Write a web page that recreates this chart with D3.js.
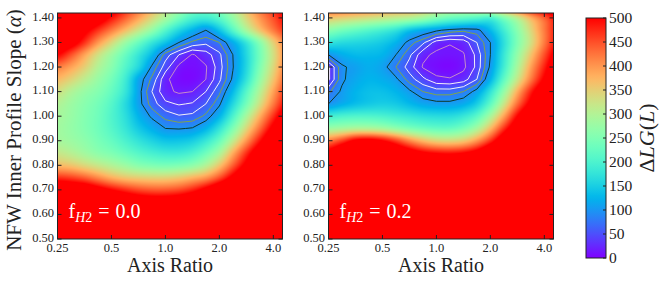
<!DOCTYPE html>
<html>
<head>
<meta charset="utf-8">
<script src="https://cdn.jsdelivr.net/npm/d3@7"></script>
<style>
  body { margin: 0; background: #fff; }
</style>
</head>
<body>
<svg id="chart" width="664" height="283" font-family="'Liberation Serif', 'DejaVu Serif', serif"></svg>
<script>
// grid nodes: axis ratio (log spaced, quarter steps in log2) and inner slope alpha
var ratioNodes = [0.250, 0.297, 0.354, 0.420, 0.500, 0.595, 0.707, 0.841, 1.000,
                  1.189, 1.414, 1.682, 2.000, 2.378, 2.828, 3.364, 4.000, 4.757];
var alphaNodes = [0.50, 0.55, 0.60, 0.65, 0.70, 0.75, 0.80, 0.85, 0.90, 0.95,
                  1.00, 1.05, 1.10, 1.15, 1.20, 1.25, 1.30, 1.35, 1.40, 1.45];

var xTicks = [0.25, 0.5, 1, 2, 4];
var xTickLabels = ["0.25", "0.5", "1.0", "2.0", "4.0"];
var yTicks = [0.5, 0.6, 0.7, 0.8, 0.9, 1.0, 1.1, 1.2, 1.3, 1.4];
var cbarTicks = [0, 50, 100, 150, 200, 250, 300, 350, 400, 450, 500];
var contourLevels = [20, 40, 60, 80, 100];
var contourColors = ["#c48cc8", "#f4f0f8", "#f4f0f8", "#7fa64a", "#0e3a2a"];
var panelLabels = ["0.0", "0.2"];

// ΔLG(L), rows follow alphaNodes (bottom to top), columns follow ratioNodes
var gridF00 = [
  [700,700,700,700,700,700,700,700,700,700,700,700,700,700,700,700,700,700],
  [700,700,700,700,700,700,700,700,700,700,700,700,700,700,700,700,700,700],
  [700,700,700,690,680,660,650,640,640,650,660,680,700,700,700,700,700,700],
  [650,650,640,630,610,580,560,550,550,560,580,610,640,660,680,690,700,700],
  [580,570,560,530,500,475,455,445,445,455,480,520,570,620,650,670,680,690],
  [470,460,440,410,380,360,350,345,345,355,375,400,450,520,590,630,650,670],
  [370,360,340,320,300,280,260,250,245,250,265,300,360,440,520,590,630,660],
  [320,305,285,265,250,230,210,195,185,185,200,235,290,380,470,550,600,640],
  [290,280,265,245,225,200,175,155,140,140,150,180,230,310,400,490,570,620],
  [285,272,255,235,210,180,145,120,100, 98,102,125,175,250,340,430,520,590],
  [290,275,255,235,205,170,125, 95, 72, 62, 65, 85,125,200,290,380,470,550],
  [300,280,260,240,210,165,110, 70, 45, 38, 42, 60, 95,160,240,330,420,500],
  [330,300,275,255,225,180,110, 60, 25, 17, 20, 40, 75,130,210,300,390,470],
  [370,345,310,275,240,190,115, 75, 25,  8,  6, 20, 55,105,175,270,360,440],
  [420,390,350,300,260,210,160, 95, 50, 15,  8, 18, 50, 98,160,250,340,420],
  [500,450,390,330,280,230,180,130, 70, 40, 18, 30, 55,100,160,240,330,410],
  [560,530,470,400,340,280,230,180,140,100, 75, 65, 80,120,180,260,350,420],
  [600,570,520,470,420,370,320,270,210,160,125,100,140,210,290,360,420,470],
  [650,620,580,540,490,440,390,340,290,240,200,190,215,270,340,400,450,500],
  [700,680,640,600,550,490,440,390,330,290,250,240,260,310,370,430,480,530]
];

var gridF02 = [
  [700,700,700,700,700,700,700,700,700,700,700,700,700,700,700,700,700,700],
  [700,700,700,700,700,700,700,700,700,700,700,700,700,700,700,700,700,700],
  [700,700,700,700,700,700,700,700,700,700,700,700,700,700,700,700,700,700],
  [700,700,700,700,700,700,700,700,700,700,700,700,700,700,700,700,700,700],
  [700,700,700,700,700,700,700,700,700,700,700,700,700,700,700,700,700,700],
  [680,700,700,700,700,700,700,700,700,700,700,700,700,700,700,700,700,700],
  [620,660,680,680,670,650,630,610,600,600,610,640,680,700,700,700,700,700],
  [530,580,620,620,600,570,540,510,495,490,500,530,590,650,690,700,700,700],
  [420,460,510,520,500,460,410,370,345,340,355,400,470,560,630,670,690,700],
  [280,290,300,300,290,270,250,235,225,225,245,290,370,470,560,620,660,690],
  [190,200,205,205,200,190,180,170,165,165,180,215,290,390,500,580,630,670],
  [100,120,135,145,150,145,130,115,108,108,118,150,220,320,430,520,590,640],
  [ 75,105,125,135,135,125,105, 80, 70, 70, 80,110,175,270,380,480,560,620],
  [ 35, 95,115,125,120,105, 70, 45, 25, 22, 30, 60,125,220,320,420,510,580],
  [ 35, 95,110,120,110, 80, 50, 18,  8,  5, 15, 45,105,190,290,390,480,560],
  [100,120,130,130,125,100, 65, 25, 15, 12, 18, 45,100,180,270,360,450,530],
  [175,165,160,155,145,125, 90, 65, 30, 22, 28, 60,100,170,250,330,420,500],
  [260,240,225,210,195,175,140,120,105, 92, 85, 90,130,190,260,340,420,490],
  [360,350,340,330,320,310,300,280,250,230,220,210,200,250,310,380,440,500],
  [470,460,450,440,430,420,410,390,360,340,340,360,400,450,500,540,570,600]
];

const svg = d3.select("#chart");
const fontFam = "'Liberation Serif', 'DejaVu Serif', serif";
const plotTop = 13, plotBottom = 239;

const y = d3.scaleLinear().domain([0.5, 1.42]).range([plotBottom, plotTop]);
const colIndex = d3.scaleLog().domain([ratioNodes[0], ratioNodes[ratioNodes.length - 1]]).range([0, ratioNodes.length - 1]);
const rowIndex = d3.scaleLinear().domain([alphaNodes[0], alphaNodes[alphaNodes.length - 1]]).range([0, alphaNodes.length - 1]);
const colorT = d3.scaleLinear().domain([0, 500]).range([0, 1]).clamp(true);
const levelColor = d3.scaleOrdinal().domain(contourLevels).range(contourColors);

// matplotlib "rainbow" colormap
function rainbow(t) {
  var c = [Math.abs(2 * t - 0.5), Math.sin(Math.PI * t), Math.cos(Math.PI * t / 2)];
  return c.map(v => Math.round(255 * Math.max(0, Math.min(1, v))));
}

function cubic(p0, p1, p2, p3, t) {
  return p1 + 0.5 * t * (p2 - p0 + t * (2 * p0 - 5 * p1 + 4 * p2 - p3 + t * (3 * (p1 - p2) + p3 - p0)));
}

// smooth image sampling of the grid (like imshow bicubic)
function sample(grid, fi, fj) {
  var nr = grid.length, nc = grid[0].length;
  var i = Math.floor(fi), j = Math.floor(fj), ti = fi - i, tj = fj - j;
  var g = (r, c) => grid[Math.max(0, Math.min(nr - 1, r))][Math.max(0, Math.min(nc - 1, c))];
  var rows = [];
  for (var k = -1; k <= 2; k++) rows.push(cubic(g(j + k, i - 1), g(j + k, i), g(j + k, i + 1), g(j + k, i + 2), ti));
  return cubic(rows[0], rows[1], rows[2], rows[3], tj);
}

function txt(sel) {
  return sel.attr("font-family", fontFam).style("font-family", fontFam);
}

function drawPanel(left, right, grid, label, idx) {
  const x = d3.scaleLog().domain([0.25, 4.5]).range([left, right]);
  const W = Math.round(right - left), H = Math.round(plotBottom - plotTop);

  // heatmap
  const canvas = document.createElement("canvas");
  canvas.width = W; canvas.height = H;
  const ctx = canvas.getContext("2d");
  const img = ctx.createImageData(W, H);
  for (let py = 0; py < H; py++) {
    const fj = rowIndex(y.invert(plotTop + (py + 0.5) * (plotBottom - plotTop) / H));
    for (let px = 0; px < W; px++) {
      const fi = colIndex(x.invert(left + (px + 0.5) * (right - left) / W));
      const c = rainbow(colorT(sample(grid, fi, fj)));
      const o = (py * W + px) * 4;
      img.data[o] = c[0]; img.data[o + 1] = c[1]; img.data[o + 2] = c[2]; img.data[o + 3] = 255;
    }
  }
  ctx.putImageData(img, 0, 0);

  svg.append("clipPath").attr("id", "clip" + idx)
    .append("rect").attr("x", left).attr("y", plotTop)
    .attr("width", right - left).attr("height", plotBottom - plotTop);

  const g = svg.append("g");
  g.append("image")
    .attr("href", canvas.toDataURL())
    .attr("x", left).attr("y", plotTop)
    .attr("width", right - left).attr("height", plotBottom - plotTop)
    .attr("preserveAspectRatio", "none");

  // contours (negated so each ring encloses the minimum)
  const flat = [];
  grid.forEach(row => row.forEach(v => flat.push(-v)));
  const contours = d3.contours()
    .size([ratioNodes.length, alphaNodes.length])
    .thresholds(contourLevels.map(v => -v))(flat);
  const proj = d3.geoTransform({
    point: function(cx, cy) {
      this.stream.point(x(colIndex.invert(cx - 0.5)), y(rowIndex.invert(cy - 0.5)));
    }
  });
  g.append("g").attr("clip-path", "url(#clip" + idx + ")")
    .selectAll("path")
    .data(contours)
    .enter().append("path")
    .attr("d", d3.geoPath(proj))
    .attr("fill", "none")
    .attr("stroke", d => levelColor(-d.value))
    .attr("stroke-width", 1);

  // label
  const t = txt(g.append("text"))
    .attr("x", left + 11).attr("y", 218)
    .style("font-size", "20px").style("fill", "#fff");
  t.append("tspan").text("f");
  t.append("tspan").attr("dy", 4).style("font-size", "14px").style("font-style", "italic").text("H");
  t.append("tspan").style("font-size", "14px").text("2");
  t.append("tspan").attr("dy", -4).attr("dx", 6).text("=");
  t.append("tspan").attr("dx", 6).text(label);

  // frame
  g.append("rect")
    .attr("x", left).attr("y", plotTop)
    .attr("width", right - left).attr("height", plotBottom - plotTop)
    .attr("fill", "none").attr("stroke", "#222").attr("stroke-width", 1);

  // ticks (inward, all four sides)
  xTicks.forEach(function(v) {
    g.append("line").attr("x1", x(v)).attr("x2", x(v)).attr("y1", plotBottom).attr("y2", plotBottom - 4).attr("stroke", "#222");
    g.append("line").attr("x1", x(v)).attr("x2", x(v)).attr("y1", plotTop).attr("y2", plotTop + 4).attr("stroke", "#222");
  });
  yTicks.forEach(function(v) {
    g.append("line").attr("x1", left).attr("x2", left + 4).attr("y1", y(v)).attr("y2", y(v)).attr("stroke", "#222");
    g.append("line").attr("x1", right).attr("x2", right - 4).attr("y1", y(v)).attr("y2", y(v)).attr("stroke", "#222");
  });

  txt(g.selectAll(".xlab").data(xTicks).enter().append("text"))
    .attr("x", d => x(d)).attr("y", 252)
    .attr("text-anchor", "middle")
    .style("font-size", "12.5px").style("fill", "#222")
    .text((d, k) => xTickLabels[k]);

  txt(g.selectAll(".ylab").data(yTicks).enter().append("text"))
    .attr("x", left - 3.5).attr("y", d => y(d) - 1.5)
    .attr("dy", "0.33em")
    .attr("text-anchor", "end")
    .style("font-size", "12.5px").style("fill", "#222")
    .text(d => d.toFixed(2));

  txt(g.append("text"))
    .attr("x", (left + right) / 2).attr("y", 272)
    .attr("text-anchor", "middle")
    .style("font-size", "20px").style("fill", "#222")
    .text("Axis Ratio");
}

drawPanel(57.5, 282.5, gridF00, panelLabels[0], 0);
drawPanel(328.5, 553.5, gridF02, panelLabels[1], 1);

// y axis title
const yt = txt(svg.append("text"))
  .attr("transform", "translate(21,130) rotate(-90)")
  .attr("text-anchor", "middle")
  .style("font-size", "21px").style("fill", "#222");
yt.append("tspan").text("NFW Inner Profile Slope (");
yt.append("tspan").style("font-style", "italic").text("α");
yt.append("tspan").text(")");

// colorbar
const cbLeft = 586, cbRight = 606, cbTop = 18, cbBottom = 258;
const cy = d3.scaleLinear().domain([0, 500]).range([cbBottom, cbTop]);
const grad = svg.append("defs").append("linearGradient")
  .attr("id", "cbgrad").attr("x1", 0).attr("y1", 1).attr("x2", 0).attr("y2", 0);
d3.range(0, 501, 10).forEach(function(v) {
  const c = rainbow(colorT(v));
  grad.append("stop").attr("offset", v / 500).attr("stop-color", "rgb(" + c.join(",") + ")");
});
svg.append("rect")
  .attr("x", cbLeft).attr("y", cbTop)
  .attr("width", cbRight - cbLeft).attr("height", cbBottom - cbTop)
  .attr("fill", "url(#cbgrad)")
  .attr("stroke", "#222").attr("stroke-width", 1);
cbarTicks.forEach(function(v) {
  svg.append("line").attr("x1", cbRight).attr("x2", cbRight - 3).attr("y1", cy(v)).attr("y2", cy(v)).attr("stroke", "#222");
});
txt(svg.selectAll(".cblab").data(cbarTicks).enter().append("text"))
  .attr("x", cbRight + 3).attr("y", d => cy(d))
  .attr("dy", "0.33em")
  .style("font-size", "15.5px").style("fill", "#222")
  .text(d => d);

const ct = txt(svg.append("text"))
  .attr("transform", "translate(654,138) rotate(-90)")
  .attr("text-anchor", "middle")
  .style("font-size", "22px").style("fill", "#222");
ct.append("tspan").text("Δ");
ct.append("tspan").style("font-style", "italic").text("LG");
ct.append("tspan").text("(");
ct.append("tspan").style("font-style", "italic").text("L");
ct.append("tspan").text(")");
</script>
</body>
</html>
